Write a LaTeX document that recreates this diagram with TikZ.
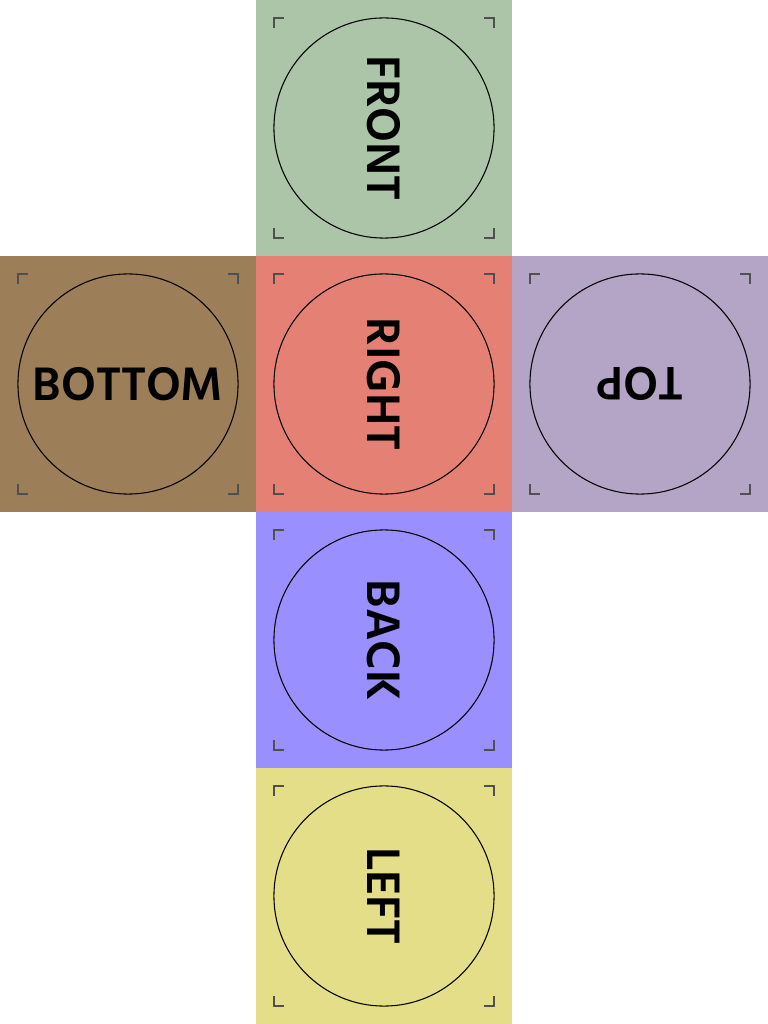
\documentclass[tikz,border=0pt]{standalone}
\usepackage{fontspec}
\setmainfont{Hind Siliguri}[BoldFont={Hind Siliguri SemiBold}]
\usepackage{tikz}
\usetikzlibrary{positioning}
\definecolor{FrontColor}{RGB}{172,196,168}
\definecolor{BottomColor}{RGB}{156,126,88}
\definecolor{RightColor}{RGB}{229,128,116}
\definecolor{TopColor}{RGB}{180,165,198}
\definecolor{BackColor}{RGB}{153,143,255}
\definecolor{LeftColor}{RGB}{227,222,135}
\definecolor{MarkGray}{RGB}{80,80,80}
\tikzset{
  facelabel/.style={font=\bfseries\fontsize{13.7}{16}\selectfont, inner sep=0pt},
  markline/.style={draw=MarkGray, line width=0.55pt},
  ring/.style={draw=black, line width=0.3pt},
}

\begin{document}
\begin{tikzpicture}[x=2.56cm, y=2.56cm]
      \useasboundingbox (0,0) rectangle (3,4);
      % faces of the unfolded cube
      \foreach \name/\col/\x/\y/\rot in {front/FrontColor/1/3/-90, bottom/BottomColor/0/2/0,
          right/RightColor/1/2/-90, top/TopColor/2/2/180, back/BackColor/1/1/-90, left/LeftColor/1/0/-90} {
        \fill[\col] (\x,\y) rectangle ++(1,1);
        \draw[ring] (\x+0.5,\y+0.5) circle (0.43);
        % corner marks
        \draw[markline] (\x+0.0703,\y+0.9297-0.039) -- (\x+0.0703,\y+0.9297) -- (\x+0.0703+0.039,\y+0.9297);
        \draw[markline] (\x+0.9297-0.039,\y+0.9297) -- (\x+0.9297,\y+0.9297) -- (\x+0.9297,\y+0.9297-0.039);
        \draw[markline] (\x+0.0703,\y+0.0703+0.039) -- (\x+0.0703,\y+0.0703) -- (\x+0.0703+0.039,\y+0.0703);
        \draw[markline] (\x+0.9297-0.039,\y+0.0703) -- (\x+0.9297,\y+0.0703) -- (\x+0.9297,\y+0.0703+0.039);
      }
      \node[facelabel, rotate=-90] (frontlabel) at (1.5,3.5) {FRONT};
      \node[facelabel] (bottomlabel) at (0.5,2.5) {BOTTOM};
      \node[facelabel, rotate=-90] (rightlabel) at (1.5,2.5) {RIGHT};
      \node[facelabel, rotate=180] (toplabel) at (2.5,2.5) {TOP};
      \node[facelabel, rotate=-90] (backlabel) at (1.5,1.5) {BACK};
      \node[facelabel, rotate=-90] (leftlabel) at (1.5,0.5) {LEFT};
\end{tikzpicture}
\end{document}
